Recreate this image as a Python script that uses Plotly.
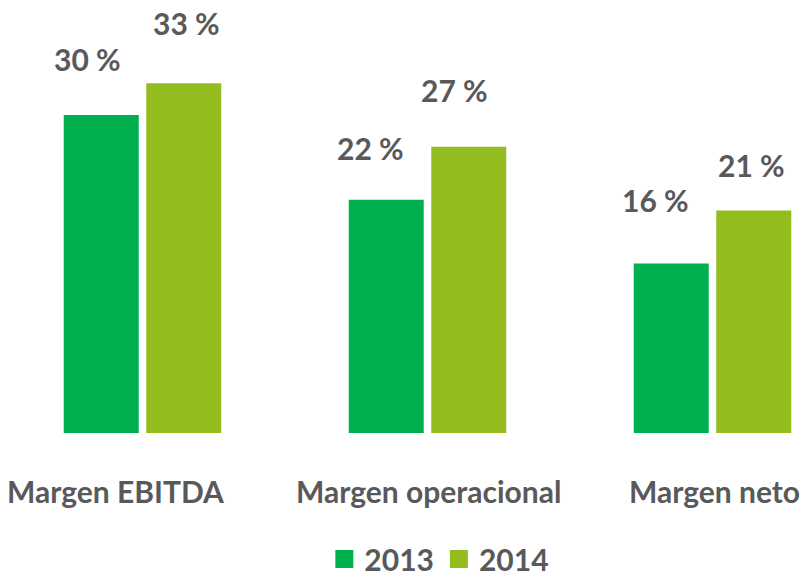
import plotly.graph_objects as go

categories = ["Margen EBITDA", "Margen operacional", "Margen neto"]
series_names = ["2013", "2014"]
values_2013 = [30, 22, 16]
values_2014 = [33, 27, 21]

# style
colors = {"2013": "#00B04F", "2014": "#93BD1F"}
text_color = "#58595B"
font_family = "Lato, Roboto, Liberation Sans, Arial, sans-serif"
slot_px = 41.25
label_dx = {"2013": [-14, -15.5, -15.5], "2014": [3, -14.5, -2]}
label_dy = {"2013": [56.5, 51.5, 63], "2014": [60, 56.5, 45.5]}
cat_dx = [-26.5, 0.5, 1.5]

fig = go.Figure()
for name, vals in zip(series_names, [values_2013, values_2014]):
    fig.add_trace(go.Bar(x=categories, y=vals, name=name,
                         marker=dict(color=colors[name], line=dict(width=0)),
                         showlegend=False, hoverinfo="skip"))
    fig.add_trace(go.Scatter(x=[None], y=[None], mode="markers", name=name,
                             marker=dict(symbol="square", size=16, color=colors[name],
                                         line=dict(color=colors[name], width=2))))

annotations = []
for si, (name, vals) in enumerate(zip(series_names, [values_2013, values_2014])):
    sign = -1 if si == 0 else 1
    for ci, (cat, v) in enumerate(zip(categories, vals)):
        annotations.append(dict(
            x=cat, y=v, xref="x", yref="y", text=f"{v} %", showarrow=False,
            xanchor="center", yanchor="middle",
            xshift=sign * slot_px + label_dx[name][ci], yshift=label_dy[name][ci],
            font=dict(family=font_family, size=30, color=text_color, weight="bold")))
for ci, cat in enumerate(categories):
    annotations.append(dict(
        x=cat, y=0, xref="x", yref="y", text=cat, showarrow=False,
        xanchor="center", yanchor="middle", xshift=cat_dx[ci], yshift=-57.5,
        font=dict(family=font_family, size=30, color=text_color, weight="bold")))

fig.update_layout(
    width=811, height=576,
    margin=dict(l=20, r=13, t=9, b=143, autoexpand=False),
    paper_bgcolor="white", plot_bgcolor="white",
    barmode="group", bargap=0.421, bargroupgap=0.091,
    xaxis=dict(range=[-0.4298, 2.3], showticklabels=False, showgrid=False,
               zeroline=False, showline=False, ticks=""),
    yaxis=dict(range=[0, 40], visible=False),
    annotations=annotations,
    legend=dict(orientation="h", x=0.539, xanchor="center", y=-0.297, yanchor="middle",
                font=dict(family=font_family, size=30, color=text_color, weight="bold"),
                itemsizing="trace", tracegroupgap=0, itemwidth=30,
                bgcolor="rgba(0,0,0,0)"),
)

fig.write_html("out.html", config={"displayModeBar": False},
               post_script="document.body.style.margin='0';document.body.style.overflow='hidden';")
